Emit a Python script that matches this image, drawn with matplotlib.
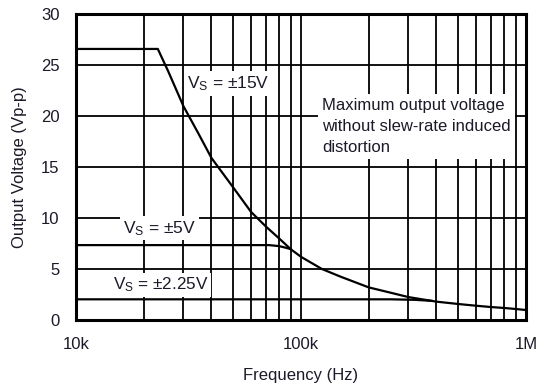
import matplotlib
matplotlib.use("Agg")
import matplotlib.pyplot as plt
from matplotlib.ticker import FixedLocator, NullFormatter, FixedFormatter

plt.rcParams['font.family'] = ['Liberation Sans', 'DejaVu Sans']
plt.rcParams['mathtext.default'] = 'regular'

# Data
f15 = [10e3, 23.1e3, 25.7e3, 30e3, 35e3, 40e3, 50e3, 60e3, 70e3, 80e3, 90e3, 100e3,
       124e3, 150e3, 200e3, 250e3, 300e3, 400e3, 500e3, 600e3, 700e3, 800e3, 900e3, 1e6]
v15 = [26.6, 26.6, 24.4, 21.0, 18.3, 15.9, 13.0, 10.6, 9.15, 8.0, 6.95, 6.2,
       5.0, 4.25, 3.2, 2.68, 2.25, 1.8, 1.57, 1.40, 1.27, 1.18, 1.08, 0.98]
f5 = [10e3, 72e3, 80e3, 86e3, 90e3]
v5 = [7.35, 7.35, 7.25, 7.08, 6.95]
f225 = [10e3, 250e3, 320e3, 380e3]
v225 = [2.03, 2.03, 1.98, 1.88]

xticks = [1e4, 1e5, 1e6]
xticklabels = ['10k', '100k', '1M']
yticks = [0, 5, 10, 15, 20, 25, 30]

txt = '#1a1a28'

fig = plt.figure(figsize=(5.38, 3.84), dpi=100)
ax = fig.add_axes([76/538, 1-320/384, 450/538, (320-14.3)/384])

ax.set_xscale('log')
ax.set_xlim(1e4, 1e6)
ax.set_ylim(0, 30)

minor = [m * d for d in (1e4, 1e5) for m in range(2, 10)]
ax.xaxis.set_major_locator(FixedLocator(xticks))
ax.xaxis.set_major_formatter(FixedFormatter(xticklabels))
ax.xaxis.set_minor_locator(FixedLocator(minor))
ax.xaxis.set_minor_formatter(NullFormatter())
ax.set_yticks(yticks)

ax.grid(True, which='both', axis='x', color='black', lw=1.3, zorder=1)
ax.grid(True, which='major', axis='y', color='black', lw=1.3, zorder=1)
ax.set_axisbelow(True)

ax.tick_params(which='both', length=0, pad=12, labelsize=12, labelcolor=txt)
for s in ax.spines.values():
    s.set_linewidth(2.2)

ax.plot(f15, v15, color='black', lw=1.6, zorder=3)
ax.plot(f5, v5, color='black', lw=1.6, zorder=3)
ax.plot(f225, v225, color='black', lw=1.6, zorder=3)

box = dict(facecolor='white', edgecolor='none', pad=2)
ax.text(31.0e3, 23.2, 'V$_S$ = ±15V', fontsize=12.5, color=txt, va='center', ha='left',
        bbox=box, zorder=4)
ax.text(16.2e3, 9.0, 'V$_S$ = ±5V', fontsize=12.5, color=txt, va='center', ha='left',
        bbox=box, zorder=4)
ax.text(14.6e3, 3.45, 'V$_S$ = ±2.25V', fontsize=12.3, color=txt, va='center', ha='left',
        bbox=box, zorder=4)
ax.text(124e3, 19.0, 'Maximum output voltage\nwithout slew-rate induced\ndistortion',
        fontsize=12, color=txt, va='center', ha='left', linespacing=1.5,
        bbox=dict(facecolor='white', edgecolor='none', pad=3), zorder=4)

ax.set_xlabel('Frequency (Hz)', fontsize=12, color=txt, labelpad=12)
ax.set_ylabel('Output Voltage (Vp-p)', fontsize=12, color=txt, labelpad=10)

fig.savefig('out.png', dpi=100)
